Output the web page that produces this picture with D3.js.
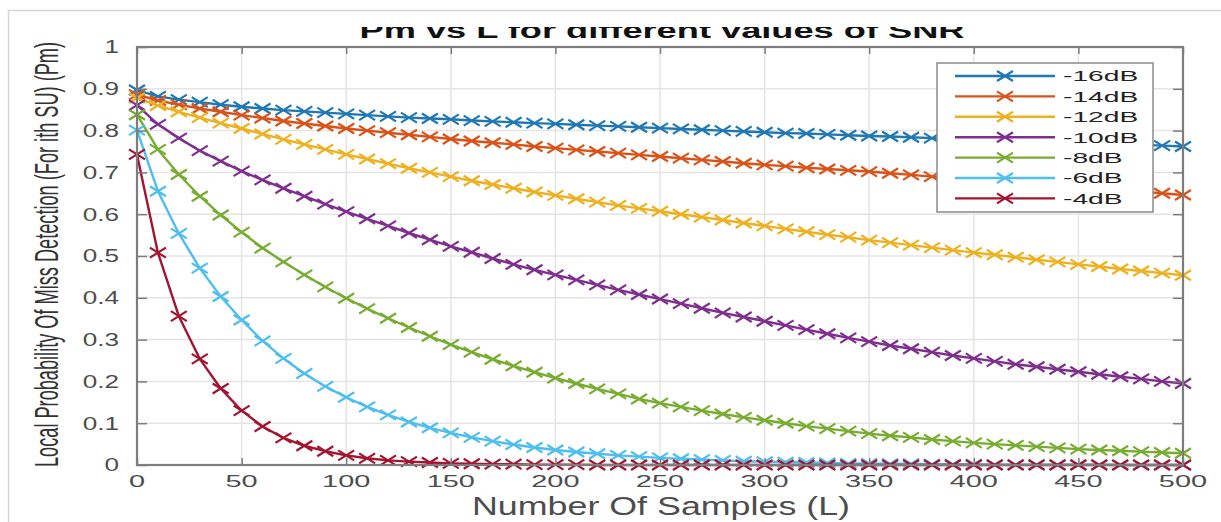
<!DOCTYPE html>
<html>
<head>
<meta charset="utf-8">
<script src="https://cdn.jsdelivr.net/npm/d3@7"></script>
<style>
  html, body { margin: 0; padding: 0; background: #fff; overflow: hidden; }
  text { font-family: "Liberation Sans", Arial, Helvetica, sans-serif; }
</style>
</head>
<body>
<svg id="chart" width="1221" height="522"></svg>
<script>
// Number of samples L at which Pm was evaluated
const samples = [0,10,20,30,40,50,60,70,80,90,100,110,120,130,140,150,160,170,180,190,
  200,210,220,230,240,250,260,270,280,290,300,310,320,330,340,350,360,370,380,390,
  400,410,420,430,440,450,460,470,480,490,500];

const seriesNames = ["-16dB", "-14dB", "-12dB", "-10dB", "-8dB", "-6dB", "-4dB"];
const seriesColors = ["#1f77b4", "#d95319", "#edb120", "#7e2f8e", "#77ac30", "#4dbeee", "#a2142f"];

// Local probability of miss detection for each SNR
const pmMinus16 = [0.897,0.882,0.874,0.868,0.862,0.857,0.853,0.849,0.846,0.843,
  0.840,0.837,0.834,0.831,0.829,0.827,0.824,0.822,0.820,0.818,
  0.816,0.814,0.812,0.810,0.808,0.806,0.804,0.802,0.800,0.798,
  0.796,0.794,0.793,0.791,0.789,0.787,0.786,0.784,0.782,0.780,
  0.779,0.777,0.775,0.774,0.772,0.770,0.769,0.767,0.766,0.764,0.762];
const pmMinus14 = [0.886,0.872,0.862,0.853,0.845,0.837,0.830,0.823,0.817,0.811,
  0.805,0.800,0.795,0.790,0.785,0.780,0.775,0.771,0.767,0.762,
  0.758,0.754,0.750,0.746,0.742,0.738,0.734,0.730,0.726,0.722,
  0.718,0.715,0.711,0.708,0.705,0.702,0.698,0.694,0.690,0.686,
  0.682,0.679,0.675,0.671,0.668,0.664,0.661,0.657,0.654,0.650,0.646];
const pmMinus12 = [0.878,0.860,0.845,0.831,0.818,0.805,0.792,0.779,0.767,0.755,
  0.743,0.732,0.721,0.710,0.700,0.690,0.680,0.671,0.662,0.653,
  0.645,0.637,0.629,0.621,0.614,0.607,0.600,0.593,0.586,0.579,
  0.572,0.565,0.558,0.551,0.545,0.538,0.532,0.526,0.520,0.514,
  0.508,0.503,0.497,0.491,0.486,0.480,0.475,0.469,0.464,0.459,0.454];
const pmMinus10 = [0.861,0.815,0.782,0.752,0.727,0.703,0.682,0.662,0.643,0.624,
  0.606,0.589,0.572,0.555,0.539,0.523,0.509,0.494,0.480,0.467,
  0.455,0.443,0.431,0.419,0.408,0.397,0.386,0.375,0.364,0.354,
  0.344,0.334,0.324,0.314,0.304,0.295,0.286,0.278,0.270,0.262,
  0.255,0.248,0.241,0.235,0.229,0.223,0.217,0.211,0.206,0.200,0.195];
const pmMinus8 = [0.838,0.755,0.695,0.643,0.598,0.557,0.519,0.486,0.455,0.426,
  0.399,0.374,0.351,0.329,0.308,0.288,0.270,0.253,0.237,0.222,
  0.208,0.195,0.182,0.170,0.158,0.148,0.139,0.130,0.122,0.114,
  0.107,0.100,0.093,0.087,0.081,0.075,0.070,0.066,0.061,0.057,
  0.053,0.050,0.047,0.044,0.041,0.038,0.036,0.034,0.032,0.030,0.028];
const pmMinus6 = [0.801,0.655,0.554,0.471,0.403,0.347,0.297,0.255,0.219,0.188,
  0.162,0.139,0.120,0.103,0.089,0.077,0.066,0.057,0.049,0.042,
  0.036,0.031,0.027,0.023,0.020,0.017,0.015,0.013,0.011,0.009,
  0.008,0.007,0.006,0.005,0.004,0.004,0.003,0.003,0.002,0.002,
  0.002,0.001,0.001,0.001,0.001,0.001,0.001,0.000,0.000,0.000,0.000];
const pmMinus4 = [0.743,0.508,0.356,0.254,0.183,0.130,0.092,0.065,0.046,0.033,
  0.023,0.016,0.011,0.008,0.006,0.004,0.003,0.002,0.002,0.001,
  0.001,0.001,0.000,0.000,0.000,0.000,0.000,0.000,0.000,0.000,
  0.000,0.000,0.000,0.000,0.000,0.000,0.000,0.000,0.000,0.000,
  0.000,0.000,0.000,0.000,0.000,0.000,0.000,0.000,0.000,0.000,0.000];

const xTickValues = [0,50,100,150,200,250,300,350,400,450,500];
const yTickValues = [0,0.1,0.2,0.3,0.4,0.5,0.6,0.7,0.8,0.9,1];
const yTickLabels = ["0","0.1","0.2","0.3","0.4","0.5","0.6","0.7","0.8","0.9","1"];

const titleText = "Pm vs L for different values of SNR";
const xLabelText = "Number Of Samples (L)";
const yLabelText = "Local Probability Of Miss Detection (For ith SU) (Pm)";

const seriesValues = [pmMinus16, pmMinus14, pmMinus12, pmMinus10, pmMinus8, pmMinus6, pmMinus4];
const series = seriesNames.map((name, i) => ({
  name, color: seriesColors[i],
  points: samples.map((L, j) => ({ L, pm: seriesValues[i][j] }))
}));

// ---- layout ----
const plot = { left: 137, right: 1183, top: 47, bottom: 465 };
const svg = d3.select("#chart");

const x = d3.scaleLinear().domain([0, 500]).range([plot.left, plot.right]);
const y = d3.scaleLinear().domain([0, 1]).range([plot.bottom, plot.top]);

// widen text horizontally by a factor
function stretch(sel, factor) {
  sel.each(function () {
    const w = this.getComputedTextLength();
    this.setAttribute("textLength", w * factor);
    this.setAttribute("lengthAdjust", "spacingAndGlyphs");
  });
}

// figure frame
svg.append("rect")
  .attr("x", 8.5).attr("y", 10.5).attr("width", 1230).attr("height", 530)
  .attr("fill", "#fff").attr("stroke", "#d6d6d6").attr("stroke-width", 1.5);

// plot background
svg.append("rect")
  .attr("x", plot.left).attr("y", plot.top)
  .attr("width", plot.right - plot.left).attr("height", plot.bottom - plot.top)
  .attr("fill", "#fff");

// grid
const grid = svg.append("g").attr("stroke", "#e4e4e4").attr("stroke-width", 1.5);
grid.selectAll("line.gx").data(xTickValues).join("line")
  .attr("x1", d => x(d)).attr("x2", d => x(d))
  .attr("y1", plot.top).attr("y2", plot.bottom);
grid.selectAll("line.gy").data(yTickValues).join("line")
  .attr("y1", d => y(d)).attr("y2", d => y(d))
  .attr("x1", plot.left).attr("x2", plot.right);

// series lines and markers
const lineGen = d3.line().x(d => x(d.L)).y(d => y(d.pm));
const markerPath = "M-8,-5L8,5M-8,5L8,-5";

const gSeries = svg.append("g");
series.forEach(s => {
  const g = gSeries.append("g");
  g.append("path").datum(s.points)
    .attr("d", lineGen)
    .attr("fill", "none").attr("stroke", s.color).attr("stroke-width", 2.4)
    .attr("stroke-linejoin", "round");
  g.selectAll("path.m").data(s.points).join("path")
    .attr("class", "m")
    .attr("transform", d => `translate(${x(d.L)},${y(d.pm)})`)
    .attr("d", markerPath)
    .attr("fill", "none").attr("stroke", s.color).attr("stroke-width", 2.2);
});

// axes box with inward ticks
const axisColor = "#7d7d7d";
const gAxes = svg.append("g");
gAxes.append("g")
  .attr("transform", `translate(0,${plot.bottom})`)
  .call(d3.axisBottom(x).tickValues(xTickValues).tickSize(-7).tickFormat(""))
  .call(g => g.select(".domain").remove());
gAxes.append("g")
  .attr("transform", `translate(0,${plot.top})`)
  .call(d3.axisTop(x).tickValues(xTickValues).tickSize(-7).tickFormat(""))
  .call(g => g.select(".domain").remove());
gAxes.append("g")
  .attr("transform", `translate(${plot.left},0)`)
  .call(d3.axisLeft(y).tickValues(yTickValues).tickSize(-10).tickFormat(""))
  .call(g => g.select(".domain").remove());
gAxes.append("g")
  .attr("transform", `translate(${plot.right},0)`)
  .call(d3.axisRight(y).tickValues(yTickValues).tickSize(-10).tickFormat(""))
  .call(g => g.select(".domain").remove());
gAxes.selectAll(".tick line").attr("stroke", axisColor).attr("stroke-width", 1.5);
gAxes.append("rect")
  .attr("x", plot.left).attr("y", plot.top)
  .attr("width", plot.right - plot.left).attr("height", plot.bottom - plot.top)
  .attr("fill", "none").attr("stroke", axisColor).attr("stroke-width", 2.2);

// tick labels
const labelColor = "#4d4d4d";
svg.append("g").selectAll("text").data(xTickValues).join("text")
  .attr("x", d => x(d)).attr("y", 487)
  .attr("text-anchor", "middle").attr("font-size", 17).attr("fill", labelColor)
  .text(d => d)
  .call(stretch, 1.7);
svg.append("g").selectAll("text").data(yTickValues).join("text")
  .attr("x", 119).attr("y", d => y(d)).attr("dy", "0.36em")
  .attr("text-anchor", "end").attr("font-size", 18).attr("fill", labelColor)
  .text((d, i) => yTickLabels[i])
  .call(stretch, 1.45);

// title (top of the glyphs is cut off by the figure edge)
svg.append("clipPath").attr("id", "titleClip")
  .append("rect").attr("x", 0).attr("y", 27).attr("width", 1221).attr("height", 20);
svg.append("text")
  .attr("clip-path", "url(#titleClip)")
  .attr("x", 662).attr("y", 38)
  .attr("text-anchor", "middle").attr("font-size", 22).attr("font-weight", "bold")
  .attr("fill", "#111")
  .attr("textLength", 605).attr("lengthAdjust", "spacingAndGlyphs")
  .text(titleText);

// x axis label
svg.append("text")
  .attr("x", 661).attr("y", 515)
  .attr("text-anchor", "middle").attr("font-size", 25).attr("fill", labelColor)
  .attr("textLength", 378).attr("lengthAdjust", "spacingAndGlyphs")
  .text(xLabelText);

// y axis label, rotated and widened across its height
svg.append("text")
  .attr("transform", "translate(58,254.5) scale(1.85,1) rotate(-90)")
  .attr("text-anchor", "middle").attr("font-size", 18.2).attr("fill", "#333")
  .attr("textLength", 425).attr("lengthAdjust", "spacingAndGlyphs")
  .text(yLabelText);

// legend
const legend = svg.append("g");
legend.append("rect")
  .attr("x", 937).attr("y", 63).attr("width", 216).attr("height", 149)
  .attr("fill", "#fff").attr("stroke", "#8a8a8a").attr("stroke-width", 1.5);
const entries = legend.selectAll("g.entry").data(series).join("g")
  .attr("class", "entry")
  .attr("transform", (d, i) => `translate(0,${76 + i * 20.4})`);
entries.append("line")
  .attr("x1", 955).attr("x2", 1055).attr("y1", 0).attr("y2", 0)
  .attr("stroke", d => d.color).attr("stroke-width", 2.4);
entries.append("path")
  .attr("transform", "translate(1005,0)")
  .attr("d", markerPath)
  .attr("fill", "none").attr("stroke", d => d.color).attr("stroke-width", 2.2);
entries.append("text")
  .attr("x", 1063).attr("y", 0).attr("dy", "0.36em")
  .attr("font-size", 15).attr("fill", "#222")
  .text(d => d.name)
  .call(stretch, 1.88);
</script>
</body>
</html>
